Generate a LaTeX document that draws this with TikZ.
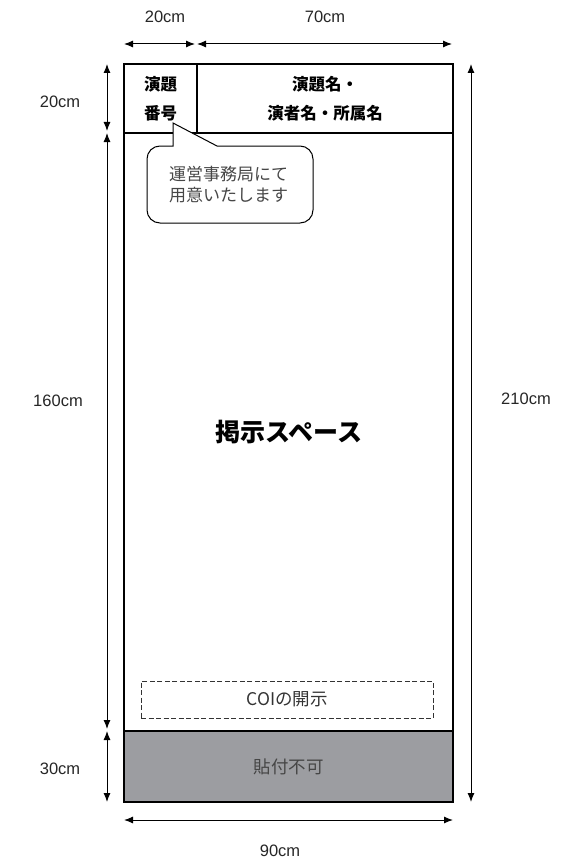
\documentclass[tikz,border=0pt]{standalone}
\usepackage{fontspec}
\setmainfont{Noto Sans CJK JP}
\newfontfamily\latinfont{Liberation Sans}
\usepackage{tikz}
\usetikzlibrary{calc,arrows.meta}
\definecolor{panelgray}{RGB}{156,157,161}
\definecolor{textgray}{RGB}{70,70,70}
\tikzset{
  box/.style={draw=black,line width=2pt,inner sep=0pt,outer sep=0pt,align=center},
  dimline/.style={line width=1pt,{Latex[length=9pt,width=7pt]}-{Latex[length=9pt,width=7pt]}},
  dimlabel/.style={font=\latinfont\fontsize{16.5}{18}\selectfont,text=black!85}
}
\begin{document}
\begin{tikzpicture}[x=1pt,y=-1pt]
\useasboundingbox (0,0) rectangle (581,864);
% board
\node[box,minimum width=73,minimum height=69,font=\bfseries\fontsize{16.5}{29}\selectfont] (num) at (160.5,98.5) {演題\\番号};
\node[box,minimum width=256,minimum height=69,font=\bfseries\fontsize{16.5}{29}\selectfont] (title) at (325,98.5) {演題名・\\演者名・所属名};
\node[box,minimum width=329,minimum height=598,font=\bfseries\fontsize{25}{28}\selectfont] (space) at (288.5,432) {掲示スペース};
\node[box,fill=panelgray,minimum width=329,minimum height=71,text=textgray,font=\fontsize{17.5}{20}\selectfont] (nopost) at (288.5,766.5) {貼付不可};
\node[draw=black!80,dash pattern=on 5pt off 2.5pt,line width=0.6pt,minimum width=292,minimum height=37,inner sep=0pt,text=black!80,font=\fontsize{17.5}{20}\selectfont] (coi) at (287,699.5) {COIの開示};
% callout
\draw[fill=white,line width=1pt] (173,146) [rounded corners=13] -- (147,146) -- (147,223) -- (313,223) -- (313,146) [sharp corners] -- (217,146) -- (173,123) -- cycle;
\node[align=left,text=textgray,font=\fontsize{17}{21}\selectfont,anchor=west,inner sep=0pt] (note) at (169,185) {運営事務局にて\\用意いたします};
% dimensions
\coordinate (t0) at (124,44); \coordinate (t1) at (196,44); \coordinate (t2) at (452,44);
\draw[dimline] (t0) -- ($(t1)+(-1,0)$);
\draw[dimline] ($(t1)+(1,0)$) -- (t2);
\node[dimlabel] (w20) at (165,17) {20cm};
\node[dimlabel] (w70) at (325,17) {70cm};
\coordinate (l0) at (107,64); \coordinate (l1) at (107,132); \coordinate (l2) at (107,730); \coordinate (l3) at (107,802);
\draw[dimline] (l0) -- ($(l1)+(0,-1)$);
\draw[dimline] ($(l1)+(0,1)$) -- ($(l2)+(0,-1)$);
\draw[dimline] ($(l2)+(0,1)$) -- (l3);
\node[dimlabel] (h20) at (60,102) {20cm};
\node[dimlabel] (h160) at (58,401) {160cm};
\node[dimlabel] (h30) at (60,769) {30cm};
\coordinate (r0) at (471,64); \coordinate (r1) at (471,802);
\draw[dimline] (r0) -- (r1);
\node[dimlabel] (h210) at (526,399) {210cm};
\coordinate (b0) at (124,820); \coordinate (b1) at (453,820);
\draw[dimline] (b0) -- (b1);
\node[dimlabel] (w90) at (280,851) {90cm};
\end{tikzpicture}
\end{document}
